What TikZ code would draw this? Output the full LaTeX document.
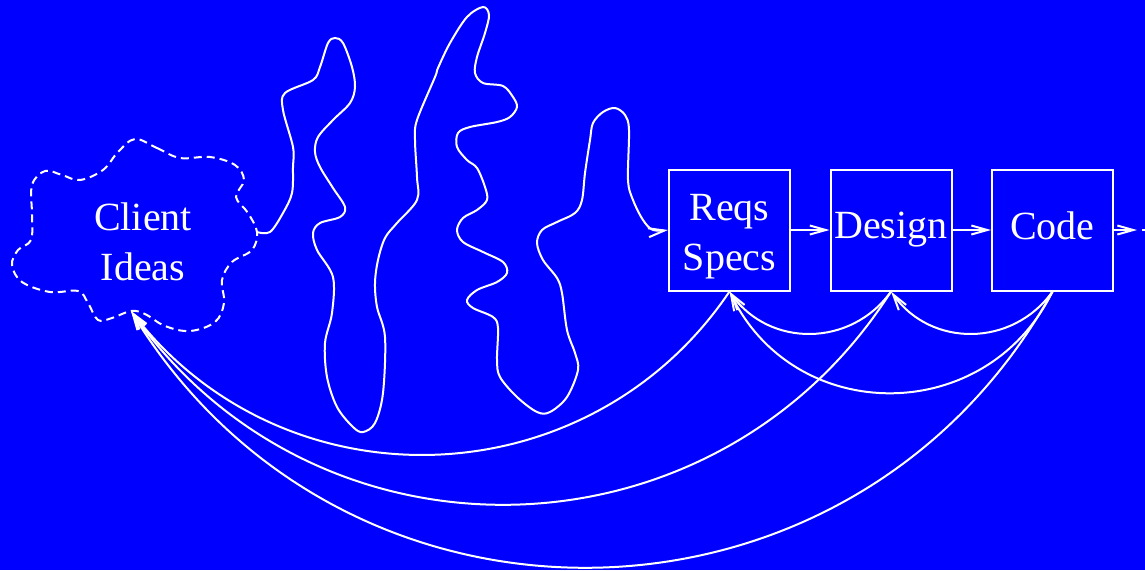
\documentclass[tikz,border=0pt]{standalone}
\usepackage{fontspec}
\setmainfont{Liberation Serif}
\usetikzlibrary{arrows.meta,positioning}
\definecolor{slideblue}{RGB}{0,0,255}
\newcommand{\bigtext}{\fontsize{20pt}{25pt}\selectfont}

\begin{document}
\begin{tikzpicture}[x=0.5pt,y=-0.5pt,node distance=19.25pt,
        stage/.style={rectangle,draw=white,line width=1pt,minimum width=60.5pt,minimum height=60.5pt,
          inner sep=0pt,align=center,text=white,font=\bigtext,text depth=4.3pt},
        flow/.style={draw=white,line width=1pt,-{Straight Barb[length=8pt,width=4.5pt]}},
        wish/.style={draw=white,line width=1pt,dash pattern=on 4pt off 2.5pt}]
        \fill[slideblue] (0,0) rectangle (1145,570);
        \useasboundingbox (0,0) rectangle (1145,570);
        \draw[wish] plot[smooth cycle,tension=0.6] coordinates {(135,139) (157,148) (180,158) (210,157) (235,165)
          (244,180) (236,197) (248,213) (257,232) (252,250) (232,262) (222,280) (224,303) (215,322)
          (190,331) (165,326) (145,314) (131,311) (112,318) (98,320) (88,303) (78,291) (50,292) (22,282)
          (12,265) (18,250) (31,240) (32,215) (32,185) (45,171) (62,175) (80,180) (103,170) (118,152)};
        \node[text=white,font=\bigtext,align=center,inner sep=0pt] (ideas) at (143,242) {Client\\Ideas};
        \coordinate (idea-out) at (257,232);
        \coordinate (idea-in) at (131,311);
        \node[stage,text height=45pt] (reqs) at (729.5,230) {Reqs\\Specs};
        \node[stage,right=of reqs] (design) {Design};
        \node[stage,right=of design] (code) {Code};
        \coordinate (next) at (1137,230);
        \draw[flow] plot[smooth,tension=0.55] coordinates {(idea-out) (270,232) (283,213) (292,193) (293,167)
          (293,147) (283,110) (285,93) (313,80) (320,67) (328,43) (335,38) (343,43) (352,67) (355,87)
          (350,103) (333,120) (318,137) (315,152) (320,167) (333,188) (345,207) (340,217) (320,223)
          (313,233) (317,250) (333,277) (332,313) (325,343) (327,377) (337,407) (353,427) (363,432)
          (375,423) (383,393) (385,337) (377,307) (375,283) (378,260) (385,238) (397,223) (417,200)
          (417,177) (415,140) (417,120) (435,77) (438,68) (450,43) (467,17) (483,7) (489,15) (485,33)
          (477,57) (475,73) (483,83) (503,86) (513,97) (517,107) (510,117) (497,122) (470,127) (458,133)
          (457,147) (467,160) (477,168) (485,187) (487,200) (477,210) (463,218) (457,230) (463,242)
          (483,252) (503,262) (507,273) (497,282) (477,290) (467,300) (473,308) (493,317) (498,328)
          (497,360) (500,377) (517,397) (537,412) (550,412) (567,397) (578,370) (575,353) (567,330)
          (562,293) (557,278) (543,260) (537,243) (542,230) (557,222) (575,213) (582,200) (585,173)
          (590,140) (593,123) (603,112) (615,108) (625,115) (629,130) (628,180) (633,200) (643,220)
          (653,230) (reqs.west)};
        \draw[flow] (reqs) -- (design);
        \draw[flow] (design) -- (code);
        \draw[flow] (code) -- (next);
        \draw[draw=white,line width=1pt] ([xshift=2.5pt]next) -- ([xshift=5pt]next);
        \draw[flow] (design.south) .. controls +(-40,56) and +(40,56) .. (reqs.south);
        \draw[flow] (code.south) .. controls +(-40,56) and +(40,56) .. (design.south);
        \draw[flow] (code.south) .. controls +(-66,135) and +(66,135) .. (reqs.south);
        \draw[flow] (reqs.south) .. controls +(-141,209) and +(154,199) .. (idea-in);
        \draw[flow] (design.south) .. controls +(-175,275) and +(189,266) .. (idea-in);
        \draw[flow] (code.south) .. controls +(-198,359) and +(214,350) .. (idea-in);
      \end{tikzpicture}
\end{document}
